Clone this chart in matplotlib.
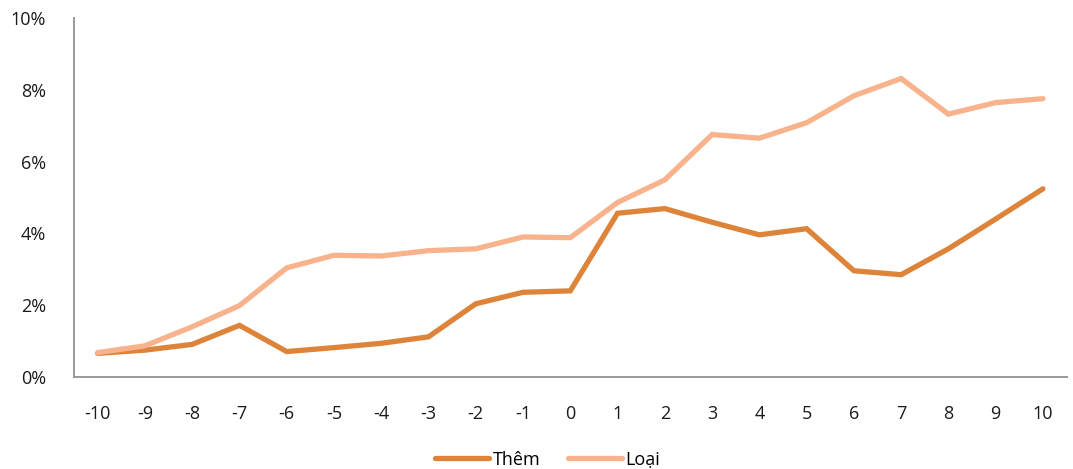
import matplotlib.pyplot as plt
from matplotlib.ticker import FuncFormatter

# event window (days) and cumulative abnormal returns, %
days = list(range(-10, 11))
them = [0.66, 0.75, 0.91, 1.44, 0.71, 0.82, 0.94, 1.12, 2.04, 2.36, 2.40,
        4.56, 4.69, 4.31, 3.96, 4.13, 2.96, 2.85, 3.57, 4.40, 5.24]
loai = [0.68, 0.87, 1.40, 1.99, 3.04, 3.39, 3.37, 3.52, 3.57, 3.90, 3.88,
        4.86, 5.49, 6.75, 6.65, 7.08, 7.83, 8.31, 7.32, 7.64, 7.75]

plt.rcParams["font.family"] = ["Open Sans", "DejaVu Sans"]
plt.rcParams["axes.unicode_minus"] = False

fig = plt.figure(figsize=(10.73, 4.69), dpi=100)
ax = fig.add_axes([0.069, 0.196, 0.925, 0.766])

ax.plot(days, them, color="#DD843A", linewidth=3.8, label="Thêm",
        solid_capstyle="round", solid_joinstyle="miter")
ax.plot(days, loai, color="#F8B38C", linewidth=3.8, label="Loại",
        solid_capstyle="round", solid_joinstyle="miter")

ax.set_xlim(-10.5, 10.5)
ax.set_ylim(0, 10)
ax.set_xticks(days)
ax.set_xticklabels([str(d) for d in days])
ax.set_yticks(range(0, 11, 2))
ax.yaxis.set_major_formatter(FuncFormatter(lambda v, _: f"{v:.0f}%"))
ax.tick_params(axis="both", length=0, labelsize=13, colors="#1a1a1a")
ax.tick_params(axis="x", pad=20)
ax.tick_params(axis="y", pad=20)

for side in ("top", "right"):
    ax.spines[side].set_visible(False)
for side in ("left", "bottom"):
    ax.spines[side].set_color("#9a9a9a")
    ax.spines[side].set_linewidth(1.4)

ax.legend(loc="upper center", bbox_to_anchor=(0.477, -0.16), ncol=2,
          frameon=False, fontsize=13, handlelength=3.0, handletextpad=0.2,
          columnspacing=1.5)

fig.savefig("out.png", dpi=100, facecolor="white")
plt.close(fig)
